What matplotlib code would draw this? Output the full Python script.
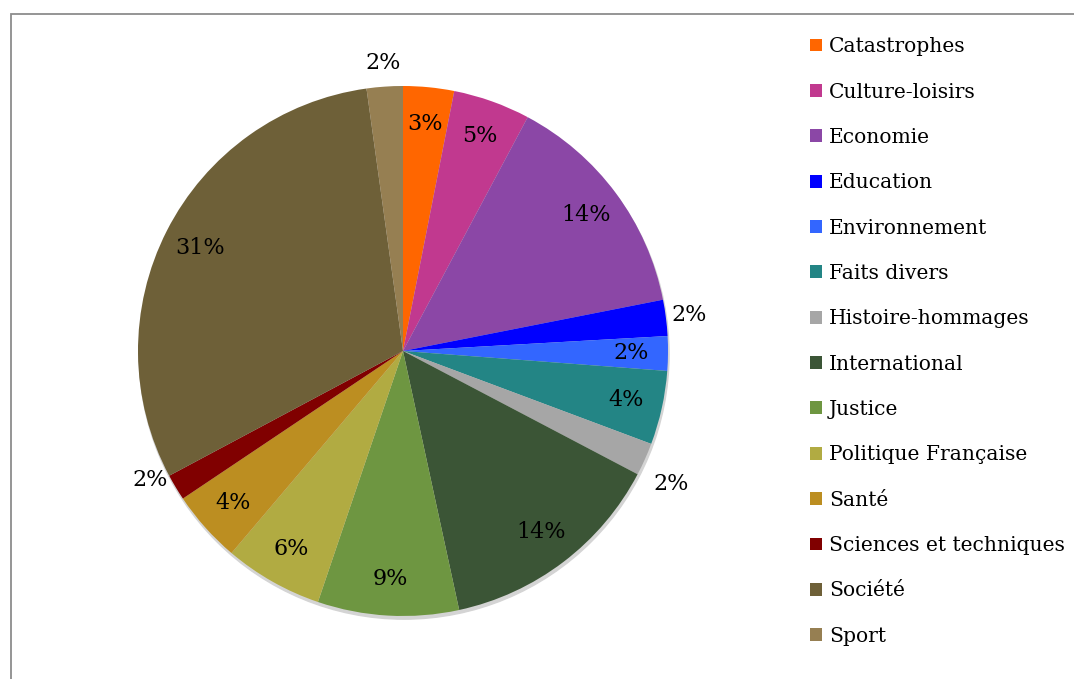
import numpy as np
import matplotlib
matplotlib.use("Agg")
import matplotlib.pyplot as plt
from matplotlib.patches import Patch, Circle, Rectangle

categories = ['Catastrophes', 'Culture-loisirs', 'Economie', 'Education',
              'Environnement', 'Faits divers', 'Histoire-hommages',
              'International', 'Justice', 'Politique Française', 'Santé',
              'Sciences et techniques', 'Société', 'Sport']
values = [3.1, 4.7, 14.1, 2.2, 2.1, 4.5, 2.0, 13.9, 8.6, 6.0, 4.4, 1.6, 30.6, 2.2]
colors = ['#ff6600', '#c1398f', '#8b47a6', '#0000ff', '#3366ff', '#238585',
          '#a6a6a6', '#3b5536', '#6e9641', '#b1ab42', '#bc8e21', '#800000',
          '#6e6038', '#967f52']
# slices whose label sits outside the pie
outside = ['Education', 'Histoire-hommages', 'Sciences et techniques', 'Sport']

W, H = 1074, 679
R = 265.0
cx, cy = 403, H - 351

plt.rcParams['font.family'] = ['DejaVu Serif']

fig = plt.figure(figsize=(W / 100, H / 100), dpi=100)
ax = fig.add_axes([0, 0, 1, 1])

# soft shadow under the pie
ax.add_patch(Circle((0.004, -0.012), 1.0, color='#d4d4d4', zorder=0))

wedges, _ = ax.pie(values, colors=colors, startangle=90, counterclock=False,
                   radius=1.0, wedgeprops=dict(linewidth=0))

total = sum(values)
for w, cat, v in zip(wedges, categories, values):
    mid = np.deg2rad((w.theta1 + w.theta2) / 2)
    r = 0.86
    if cat in outside:
        r = 1.09
        # excel nudges the small outside labels a little
        if cat == 'Histoire-hommages':
            r, mid = 1.13, mid - 0.04
        if cat == 'Sciences et techniques':
            r, mid = 1.07, mid - 0.07
    ax.text(r * np.cos(mid), r * np.sin(mid), f'{round(v / total * 100)}%',
            ha='center', va='center', fontsize=16, color='black')

ax.set_xlim(-cx / R, (W - cx) / R)
ax.set_ylim(-cy / R, (H - cy) / R)
ax.set_aspect('equal')
ax.axis('off')

handles = [Patch(facecolor=c, edgecolor='none') for c in colors]
fig.legend(handles, categories, loc='upper left', bbox_to_anchor=(800 / W, 1 - 27 / H),
           frameon=False, fontsize=14.6, handlelength=0.6, handleheight=0.6,
           handletextpad=0.32, labelspacing=1.3, borderpad=0)

fig.add_artist(Rectangle((11 / W, -0.1), 1.2, (H - 14) / H + 0.1,
                         transform=fig.transFigure, fill=False,
                         edgecolor='#8c8c8c', linewidth=1.3))

fig.savefig('out.png', dpi=100)
